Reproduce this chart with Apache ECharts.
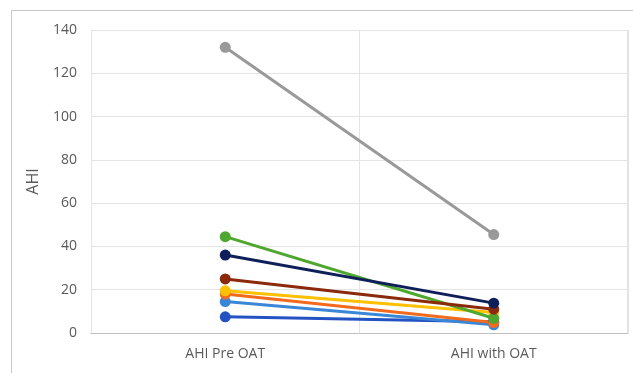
<!DOCTYPE html>
<html><head><meta charset="utf-8">
<script src="https://cdn.jsdelivr.net/npm/echarts@6/dist/echarts.min.js"></script>
<style>html,body{margin:0;padding:0;background:#fff}#c{width:633px;height:373px}</style>
</head><body><div id="c"></div>
<script>
const categories = ["AHI Pre OAT", "AHI with OAT"];
const yTicks = [0, 20, 40, 60, 80, 100, 120, 140];
const gray = [132, 45.5];
const blue = [7.5, 5.2];
const lightBlue = [14.5, 3.8];
const orange = [18, 4.8];
const yellow = [19.5, 9.5];
const darkRed = [25, 11];
const green = [44.5, 6.8];
const navy = [36, 13.8];

const seriesDefs = [
  {name: "S1", data: gray, color: "#999999"},
  {name: "S2", data: blue, color: "#2452C2"},
  {name: "S3", data: lightBlue, color: "#3A87D8"},
  {name: "S4", data: orange, color: "#F26B1D"},
  {name: "S5", data: yellow, color: "#FFC000"},
  {name: "S6", data: green, color: "#4EA72E"},
  {name: "S7", data: darkRed, color: "#8B2A0A"},
  {name: "S8", data: navy, color: "#0F1F5A"}
];

const chart = echarts.init(document.getElementById('c'), null, {renderer: 'canvas'});
chart.setOption({
  animation: false,
  graphic: [{
    type: 'rect', shape: {x: 11.5, y: 10.5, width: 640, height: 400},
    style: {fill: 'none', stroke: '#C8C8C8', lineWidth: 1}, z: -10
  }, {
    type: 'polyline', shape: {points: [[91.5, 30.5], [627.5, 30.5], [627.5, 333]]},
    style: {fill: 'none', stroke: '#E4E4E4', lineWidth: 1}, z: -5
  }],
  grid: {left: 91, right: 5, top: 30, bottom: 40, containLabel: false},
  xAxis: {
    type: 'category', data: categories, boundaryGap: true,
    axisLine: {show: true, lineStyle: {color: '#BFBFBF', width: 1}},
    axisTick: {show: false},
    splitLine: {show: true, lineStyle: {color: '#E4E4E4', width: 1}},
    axisLabel: {color: '#595959', fontSize: 14, fontFamily: 'Open Sans', margin: 14}
  },
  yAxis: {
    type: 'value', min: 0, max: 140, interval: 20,
    name: 'AHI', nameLocation: 'middle', nameGap: 50, nameRotate: 90,
    nameTextStyle: {color: '#595959', fontSize: 16, fontFamily: 'Open Sans'},
    axisLine: {show: false}, axisTick: {show: false},
    splitLine: {show: true, lineStyle: {color: '#E4E4E4', width: 1}},
    axisLabel: {color: '#595959', fontSize: 14, fontFamily: 'Open Sans', margin: 14,
      formatter: v => yTicks.includes(v) ? String(v) : ''}
  },
  series: seriesDefs.map(s => ({
    name: s.name, type: 'line', data: s.data,
    symbol: 'circle', symbolSize: 11,
    lineStyle: {color: s.color, width: 3},
    itemStyle: {color: s.color},
    emphasis: {disabled: true}
  }))
});
</script></body></html>
